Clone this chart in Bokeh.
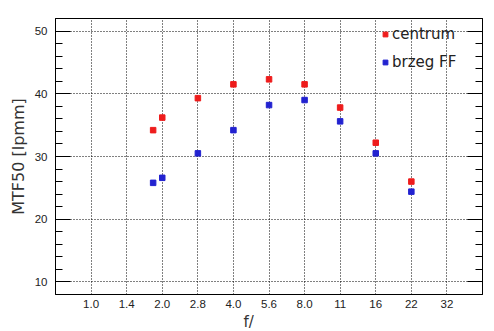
import math
from bokeh.plotting import figure
from bokeh.models import (Range1d, FixedTicker, SingleIntervalTicker, LinearAxis,
                          CustomJSTickFormatter, Title, Legend, LegendItem, ColumnDataSource)
from bokeh.embed import file_html
from bokeh.resources import INLINE

# ---- data ----
apertures = [1.83, 2.0, 2.83, 4.0, 5.66, 8.0, 11.31, 16.0, 22.63]
centrum = [34.2, 36.2, 39.3, 41.5, 42.3, 41.5, 37.8, 32.2, 26.0]
brzeg_ff = [25.8, 26.6, 30.5, 34.2, 38.2, 39.0, 35.6, 30.5, 24.4]
tick_labels = ["1.0", "1.4", "2.0", "2.8", "4.0", "5.6", "8.0", "11", "16", "22", "32"]
series_names = ["centrum", "brzeg FF"]
series_colors = ["#ee1c1c", "#2222d0"]

ticks = [2 ** (i / 2) for i in range(len(tick_labels))]

p = figure(width=494, height=331, output_backend="svg", toolbar_location=None,
           x_axis_type="log",
           x_range=Range1d(2 ** -0.5, 2 ** 5.5), y_range=Range1d(8, 52),
           min_border_left=55, min_border_right=12, min_border_top=18, min_border_bottom=37)

p.outline_line_color = "black"
p.outline_line_width = 1
p.background_fill_color = "white"
p.border_fill_color = "white"

tick_font = "'Liberation Sans Narrow', 'Liberation Sans', sans-serif"

# x axis
xa = p.xaxis[0]
xa.ticker = FixedTicker(ticks=ticks, minor_ticks=[])
xa.formatter = CustomJSTickFormatter(args=dict(labels=tick_labels), code="""
    const n = Math.round(2*Math.log2(tick));
    return (n >= 0 && n < labels.length) ? labels[n] : "";
""")
xa.major_tick_in = 0
xa.major_tick_out = 0
xa.minor_tick_in = 0
xa.minor_tick_out = 0
xa.axis_line_color = None
xa.major_label_text_font = tick_font
xa.major_label_text_font_size = "11.5px"
xa.major_label_text_color = "#222222"
xa.major_label_standoff = 5

# y axes
yticker = SingleIntervalTicker(interval=10, num_minor_ticks=5)
ya = p.yaxis[0]
ya.ticker = yticker
ya.major_tick_in = 15
ya.major_tick_out = 0
ya.minor_tick_in = 7
ya.minor_tick_out = 0
ya.major_tick_line_color = "black"
ya.minor_tick_line_color = "black"
ya.axis_line_color = "black"
ya.major_label_text_font = tick_font
ya.major_label_text_font_size = "11.5px"
ya.major_label_text_color = "#222222"
ya.major_label_standoff = 8

ra = LinearAxis(ticker=yticker, major_tick_in=15, major_tick_out=0,
                minor_tick_in=7, minor_tick_out=0,
                formatter=CustomJSTickFormatter(code="return ''"),
                major_label_standoff=0, axis_line_color="black")
p.add_layout(ra, "right")

# grids
p.xgrid.grid_line_color = "black"
p.xgrid.grid_line_dash = "1 2"
p.xgrid.grid_line_width = 1
p.ygrid.ticker = yticker
p.ygrid.grid_line_color = "black"
p.ygrid.grid_line_dash = "1 2"
p.ygrid.grid_line_width = 1

# data
src = ColumnDataSource(dict(f=apertures, c=centrum, b=brzeg_ff))
r1 = p.scatter("f", "c", source=src, marker="square", size=5.5,
               fill_color=series_colors[0], line_color=series_colors[0])
r2 = p.scatter("f", "b", source=src, marker="square", size=5.5,
               fill_color=series_colors[1], line_color=series_colors[1])

legend = Legend(items=[LegendItem(label=series_names[0], renderers=[r1]),
                       LegendItem(label=series_names[1], renderers=[r2])],
                location=(324, 222), margin=0, padding=0,
                glyph_width=12, glyph_height=12, label_height=20, spacing=8,
                label_standoff=1, border_line_color=None, background_fill_alpha=0,
                label_text_font="DejaVu Sans", label_text_font_size="15px",
                label_text_color="#222222")
p.add_layout(legend, "center")

# axis titles
p.add_layout(Title(text="MTF50 [lpmm]", align="center", offset=-15, standoff=8,
                   text_font="DejaVu Sans", text_font_size="16px", text_font_style="normal",
                   text_color="#333333"), "left")
p.add_layout(Title(text="f/", align="left", offset=188, standoff=0,
                   text_font="DejaVu Sans", text_font_size="15px", text_font_style="normal",
                   text_color="#333333"), "below")

open("out.html", "w").write(file_html(p, INLINE))
